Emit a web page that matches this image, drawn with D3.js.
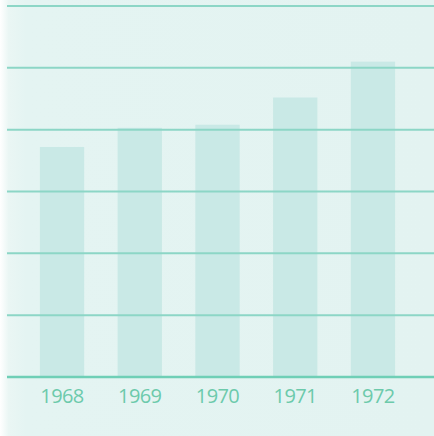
<!DOCTYPE html>
<html>
  <head>
    <meta charset="utf-8">
    <title>bars 1968-1972</title>
    <script src="https://d3js.org/d3.v7.min.js"></script>
    <style type="text/css">
    body { margin: 0; background: #fff; }
    .bar { fill: #c9e9e6; }
    .label { fill: #6ccaab; font-family: "Open Sans", sans-serif; font-size: 20px; letter-spacing: -0.6px; }
    </style>
  </head>
  <body>
    <div id="chart"></div>
    <script>
      // data (units = gridline steps)
      var years = ["1968", "1969", "1970", "1971", "1972"];
      var values = [3.72, 4.03, 4.08, 4.52, 5.1];
      var gridTicks = [0, 1, 2, 3, 4, 5, 6];

      var width = 434,
          height = 436;

      var svg = d3.select("#chart").append("svg")
          .attr("width", width)
          .attr("height", height);

      // paper background, fading to white at the left edge
      var defs = svg.append("defs");
      var grad = defs.append("linearGradient").attr("id", "paper")
          .attr("x1", 0).attr("x2", 1).attr("y1", 0).attr("y2", 0);
      grad.append("stop").attr("offset", "0").attr("stop-color", "#ffffff");
      grad.append("stop").attr("offset", "0.02").attr("stop-color", "#eaf6f4");
      grad.append("stop").attr("offset", "0.06").attr("stop-color", "#e4f4f2");
      grad.append("stop").attr("offset", "1").attr("stop-color", "#e3f3f1");
      svg.append("rect")
          .attr("width", width).attr("height", height)
          .attr("fill", "url(#paper)");

      var x = d3.scaleBand()
          .domain(years)
          .range([22, 413])
          .paddingInner(0.43)
          .paddingOuter(0.23);

      var y = d3.scaleLinear()
          .domain([0, 6])
          .range([377, 6]);

      // bars
      svg.selectAll(".bar")
          .data(values)
          .enter()
          .append("rect")
          .attr("class", "bar")
          .attr("x", function(d, i) { return x(years[i]); })
          .attr("width", x.bandwidth())
          .attr("y", function(d) { return y(d); })
          .attr("height", function(d) { return y(0) - y(d); });

      // horizontal rules
      svg.append("g")
          .attr("class", "grid")
          .selectAll("line")
          .data(gridTicks)
          .enter()
          .append("line")
          .attr("x1", 7)
          .attr("x2", width)
          .attr("y1", function(d) { return y(d); })
          .attr("y2", function(d) { return y(d); })
          .style("stroke-width", function(d) { return d === 0 ? 2.5 : 2; })
          .style("stroke", function(d) { return d === 0 ? "#6fcfb6" : "#8cd6c6"; });

      // year labels
      svg.selectAll(".label")
          .data(years)
          .enter()
          .append("text")
          .attr("class", "label")
          .attr("x", function(d) { return x(d) + x.bandwidth() / 2; })
          .attr("y", 403)
          .attr("text-anchor", "middle")
          .text(function(d) { return d; });
    </script>
  </body>
</html>
